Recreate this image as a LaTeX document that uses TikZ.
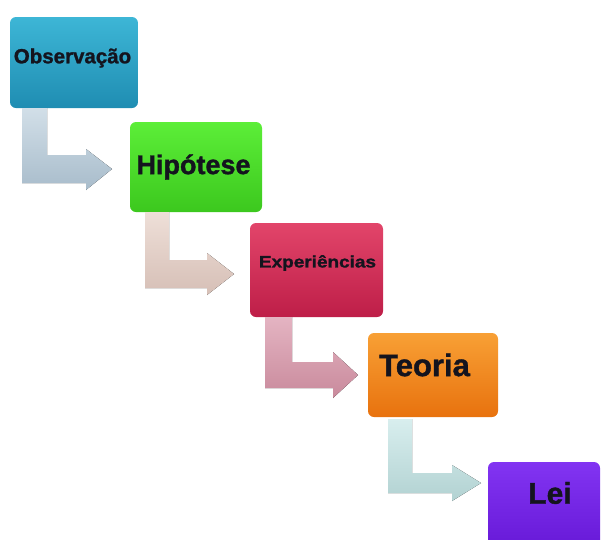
\documentclass[tikz,border=0pt]{standalone}
\usepackage{fontspec}
\setmainfont{Liberation Sans}
\newfontfamily\heavysans{Liberation Sans Bold}[FakeBold=1.2]
\definecolor{obsT}{HTML}{3DB6D6}
\definecolor{obsB}{HTML}{1F8DB2}
\definecolor{hipT}{HTML}{5CEE38}
\definecolor{hipB}{HTML}{3CC81E}
\definecolor{expT}{HTML}{E2456A}
\definecolor{expB}{HTML}{BE1E48}
\definecolor{teoT}{HTML}{F8A035}
\definecolor{teoB}{HTML}{E8720E}
\definecolor{leiT}{HTML}{8234F2}
\definecolor{leiB}{HTML}{6618D6}
\definecolor{aOneT}{HTML}{D2DFE8}
\definecolor{aOneB}{HTML}{A8BCCB}
\definecolor{aTwoT}{HTML}{EEDFD8}
\definecolor{aTwoB}{HTML}{D6BFB6}
\definecolor{aThrT}{HTML}{E4B4C2}
\definecolor{aThrB}{HTML}{C98A9C}
\definecolor{aFouT}{HTML}{D8EEEE}
\definecolor{aFouB}{HTML}{B2D2D2}
\definecolor{ink}{HTML}{14141E}
\begin{document}
\begin{tikzpicture}[x=1pt,y=-1pt,
  stagebox/.style={rounded corners=6pt, inner sep=0pt, draw=none},
  lbl/.style={text=ink, inner sep=0pt}]
\useasboundingbox (0,0) rectangle (603,539);
\clip (0,0) rectangle (603,539);
% boxes
\node[stagebox, minimum width=128pt, minimum height=91pt, top color=obsT, bottom color=obsB] (obs) at (74,62.5) {};
\node[stagebox, minimum width=132pt, minimum height=90pt, top color=hipT, bottom color=hipB] (hip) at (196,167) {};
\node[stagebox, minimum width=133pt, minimum height=94pt, top color=expT, bottom color=expB] (exp) at (316.5,270) {};
\node[stagebox, minimum width=130pt, minimum height=84pt, top color=teoT, bottom color=teoB] (teo) at (433,375) {};
\node[stagebox, minimum width=112pt, minimum height=90pt, top color=leiT, bottom color=leiB] (lei) at (544,507) {};
% labels
\node[lbl, font=\heavysans\fontsize{20.5}{20.5}\selectfont] (tobs) at (72.5,58) {Observação};
\node[lbl, font=\heavysans\fontsize{27}{27}\selectfont] (thip) at (193.5,167) {Hipótese};
\node[lbl, font=\heavysans\fontsize{16.5}{16.5}\selectfont, xscale=1.15] (texp) at (317.5,263) {Experiências};
\node[lbl, font=\heavysans\fontsize{31}{31}\selectfont] (tteo) at (424.5,365) {Teoria};
\node[lbl, font=\heavysans\fontsize{30}{30}\selectfont] (tlei) at (550,493) {Lei};
% L-shaped arrows
\fill[top color=aOneT, bottom color=aOneB]
  (22,108) -- (47,108) -- (47,155) -- (86,155) -- (86,149) -- (112,169) -- (86,190) -- (86,183) -- (22,183) -- cycle;
\fill[top color=aTwoT, bottom color=aTwoB]
  (145,212) -- (169,212) -- (169,260) -- (207,260) -- (207,253) -- (234,274) -- (207,295) -- (207,288) -- (145,288) -- cycle;
\fill[top color=aThrT, bottom color=aThrB]
  (265,317) -- (292,317) -- (292,362) -- (333,362) -- (333,352) -- (358,375) -- (333,398) -- (333,388) -- (265,388) -- cycle;
\fill[top color=aFouT, bottom color=aFouB]
  (388,419) -- (412,419) -- (412,473) -- (452,473) -- (452,465) -- (481,483) -- (452,501) -- (452,493) -- (388,493) -- cycle;
\end{tikzpicture}
\end{document}
